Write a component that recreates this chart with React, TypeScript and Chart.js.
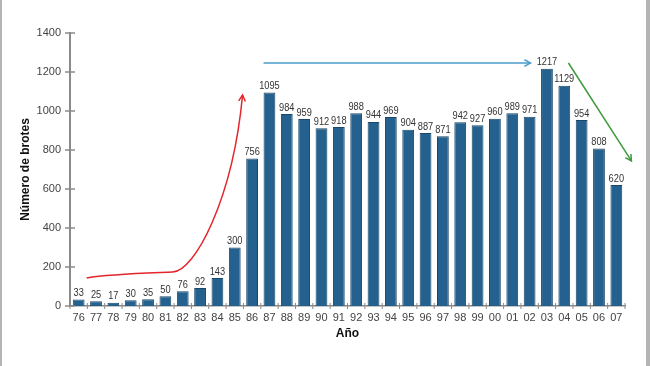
import React, { useEffect, useRef } from "react";
import { Chart, registerables } from "chart.js";

Chart.register(...registerables);

const years = ["76","77","78","79","80","81","82","83","84","85","86","87","88","89","90","91","92","93","94","95","96","97","98","99","00","01","02","03","04","05","06","07"];
const brotes = [33,25,17,30,35,50,76,92,143,300,756,1095,984,959,912,918,988,944,969,904,887,871,942,927,960,989,971,1217,1129,954,808,620];
const yTicks = [0,200,400,600,800,1000,1200,1400];

// annotation arrows in data coordinates: [category index, value]
const redCurve: number[][] = [[0.46,144],[1.84,164],[4.15,169],[5.42,174],[6.69,179],[8.88,544],[9.45,1082]];
const blueArrow: number[][] = [[10.66,1246],[26.05,1246]];
const greenArrow: number[][] = [[28.24,1246],[31.87,744]];

const SANS = "'Liberation Sans', Arial, sans-serif";

function arrowHead(ctx: CanvasRenderingContext2D, fx: number, fy: number, tx: number, ty: number, size: number) {
  const a = Math.atan2(ty - fy, tx - fx);
  ctx.beginPath();
  ctx.moveTo(tx - size * Math.cos(a - 0.5), ty - size * Math.sin(a - 0.5));
  ctx.lineTo(tx, ty);
  ctx.lineTo(tx - size * Math.cos(a + 0.5), ty - size * Math.sin(a + 0.5));
  ctx.stroke();
}

const extras = {
  id: "extras",
  afterDraw(chart: any) {
    const ctx = chart.ctx as CanvasRenderingContext2D;
    const xs = chart.scales.x;
    const ys = chart.scales.y;
    const px = (p: number[]) => [xs.getPixelForValue(p[0]), ys.getPixelForValue(p[1])];
    ctx.save();
    // frame borders
    ctx.fillStyle = "#b4b4b4";
    ctx.fillRect(0, 0, 2, chart.height);
    ctx.fillRect(chart.width - 4, 0, 4, chart.height);
    // y tick marks crossing axis
    ctx.strokeStyle = "#8a8a8a";
    ctx.lineWidth = 1.5;
    const ax = xs.left;
    yTicks.forEach((v) => {
      const y = ys.getPixelForValue(v);
      ctx.beginPath();
      ctx.moveTo(ax - 5, y);
      ctx.lineTo(ax + 5, y);
      ctx.stroke();
    });
    // x tick marks between categories
    ctx.lineWidth = 1;
    const by = ys.getPixelForValue(0);
    for (let i = 0; i <= years.length; i++) {
      const x = xs.getPixelForValue(i - 0.5);
      ctx.beginPath();
      ctx.moveTo(x, by - 3);
      ctx.lineTo(x, by + 3);
      ctx.stroke();
    }
    // value labels (condensed)
    ctx.fillStyle = "#333";
    ctx.font = "11px " + SANS;
    ctx.textAlign = "center";
    ctx.textBaseline = "bottom";
    const meta = chart.getDatasetMeta(0);
    meta.data.forEach((bar: any, i: number) => {
      ctx.save();
      ctx.translate(bar.x, bar.y - 1);
      ctx.scale(0.84, 1);
      ctx.fillText(String(brotes[i]), 0, 0);
      ctx.restore();
    });
    // red curve
    ctx.lineWidth = 1.5;
    ctx.strokeStyle = "#e3262b";
    const r = redCurve.map(px);
    ctx.beginPath();
    ctx.moveTo(r[0][0], r[0][1]);
    ctx.bezierCurveTo(r[1][0], r[1][1], r[2][0], r[2][1], r[3][0], r[3][1]);
    ctx.bezierCurveTo(r[4][0], r[4][1], r[5][0], r[5][1], r[6][0], r[6][1]);
    ctx.stroke();
    arrowHead(ctx, r[5][0], r[5][1], r[6][0], r[6][1], 7);
    // blue arrow
    ctx.strokeStyle = "#4a9ccb";
    const b = blueArrow.map(px);
    ctx.beginPath();
    ctx.moveTo(b[0][0], b[0][1]);
    ctx.lineTo(b[1][0], b[1][1]);
    ctx.stroke();
    arrowHead(ctx, b[0][0], b[0][1], b[1][0], b[1][1], 7);
    // green arrow
    ctx.strokeStyle = "#3c9a3c";
    const g = greenArrow.map(px);
    ctx.beginPath();
    ctx.moveTo(g[0][0], g[0][1]);
    ctx.lineTo(g[1][0], g[1][1]);
    ctx.stroke();
    arrowHead(ctx, g[0][0], g[0][1], g[1][0], g[1][1], 7);
    ctx.restore();
  },
};

export default function App() {
  const ref = useRef<HTMLCanvasElement>(null);
  useEffect(() => {
    const chart = new Chart(ref.current!, {
      type: "bar",
      data: {
        labels: years,
        datasets: [
          {
            data: brotes,
            backgroundColor: "#24618e",
            borderColor: "#1a4668",
            borderWidth: 1,
            barPercentage: 0.68,
            categoryPercentage: 1,
          },
        ],
      },
      options: {
        animation: false,
        responsive: false,
        layout: { padding: { left: 8, top: 33, right: 25, bottom: 20 } },
        plugins: { legend: { display: false }, tooltip: { enabled: false } },
        scales: {
          x: {
            grid: { display: false, drawTicks: false },
            border: { display: true, color: "#8a8a8a", width: 1.5 },
            ticks: { autoSkip: false, maxRotation: 0, padding: 5, color: "#444", font: { size: 11, family: SANS } },
            title: { display: true, text: "Año", color: "#111", font: { size: 12, weight: "bold", family: SANS }, padding: { top: 0, bottom: 5 } },
            afterFit: (s: any) => { s.height = 40; },
          },
          y: {
            min: 0,
            max: 1400,
            grid: { display: false, drawTicks: false },
            border: { display: true, color: "#8a8a8a", width: 2 },
            ticks: { stepSize: 200, padding: 9, color: "#444", font: { size: 11, family: SANS }, callback: (v: any) => String(v) },
            title: { display: true, text: "Número de brotes", color: "#111", font: { size: 12, weight: "bold", family: SANS }, padding: { top: 10, bottom: 0 } },
            afterFit: (s: any) => { s.width = 62; },
          },
        },
      },
      plugins: [extras],
    });
    return () => chart.destroy();
  }, []);
  return (
    <div style={{ position: "fixed", left: 0, top: 0, width: 650, height: 366, background: "#fff" }}>
      <canvas ref={ref} width={650} height={366} style={{ display: "block" }} />
    </div>
  );
}
